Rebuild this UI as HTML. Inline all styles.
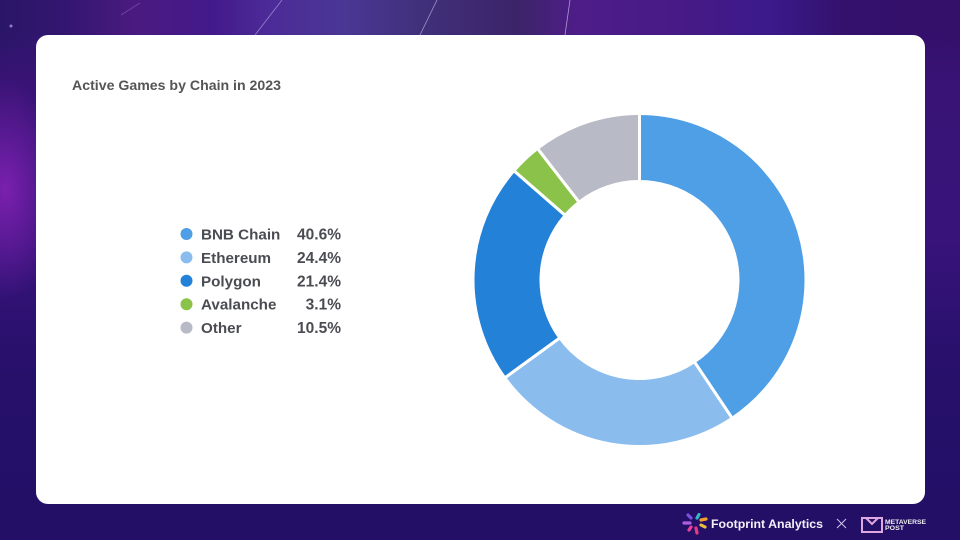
<!DOCTYPE html>
<html lang="en">
<head>
<meta charset="utf-8">
<title>Active Games by Chain in 2023</title>
<style>
html,body{margin:0;padding:0;width:960px;height:540px;overflow:hidden;background:#25106a}
#stage{position:relative;width:960px;height:540px;overflow:hidden;font-family:"Liberation Sans",sans-serif}
#bg,#chart{position:absolute;left:0;top:0}
#card{position:absolute;left:36px;top:35px;width:889px;height:469px;background:#fff;border-radius:12px}
</style>
</head>
<body>
<div id="stage">
<svg id="bg" width="960" height="540" viewBox="0 0 960 540">
  <defs>
    <linearGradient id="base" x1="0" y1="0" x2="0" y2="1">
      <stop offset="0" stop-color="#3a1474"/>
      <stop offset="0.45" stop-color="#37137a"/>
      <stop offset="0.7" stop-color="#26106a"/>
      <stop offset="1" stop-color="#230f66"/>
    </linearGradient>
    <linearGradient id="top-band" x1="0" y1="0" x2="1" y2="0">
      <stop offset="0" stop-color="#2a1668"/>
      <stop offset="0.07" stop-color="#341670"/>
      <stop offset="0.14" stop-color="#4a1a80"/>
      <stop offset="0.22" stop-color="#43198a"/>
      <stop offset="0.28" stop-color="#4c2b98"/>
      <stop offset="0.36" stop-color="#4a3794"/>
      <stop offset="0.44" stop-color="#40307a"/>
      <stop offset="0.54" stop-color="#3c2468"/>
      <stop offset="0.6" stop-color="#4e1d88"/>
      <stop offset="0.72" stop-color="#461a86"/>
      <stop offset="0.8" stop-color="#3b1a8c"/>
      <stop offset="0.88" stop-color="#33116c"/>
      <stop offset="1" stop-color="#34106a"/>
    </linearGradient>
    <linearGradient id="band-fade" x1="0" y1="0" x2="0" y2="1">
      <stop offset="0" stop-color="#fff"/>
      <stop offset="0.4" stop-color="#fff"/>
      <stop offset="1" stop-color="#000"/>
    </linearGradient>
    <mask id="band-mask" maskUnits="userSpaceOnUse" x="0" y="0" width="960" height="80">
      <rect width="960" height="80" fill="url(#band-fade)"/>
    </mask>
    <radialGradient id="glow-left" cx="0.5" cy="0.5" r="0.5">
      <stop offset="0" stop-color="#7a20ae" stop-opacity="1"/>
      <stop offset="1" stop-color="#7a20ae" stop-opacity="0"/>
    </radialGradient>
  </defs>
  <rect width="960" height="540" fill="url(#base)"/>
  <rect width="960" height="80" fill="url(#top-band)" mask="url(#band-mask)"/>
  <ellipse cx="5" cy="190" rx="60" ry="110" fill="url(#glow-left)"/>
  <line x1="255" y1="35" x2="282" y2="0" stroke="#a99bd8" stroke-width="0.8" opacity="0.8"/>
  <line x1="420" y1="35" x2="437" y2="0" stroke="#b8aee0" stroke-width="0.8" opacity="0.8"/>
  <line x1="565" y1="35" x2="570" y2="0" stroke="#c4bce6" stroke-width="0.8" opacity="0.8"/>
  <line x1="121" y1="15" x2="140" y2="3" stroke="#8a5fc0" stroke-width="1" opacity="0.6"/>
  <circle cx="11" cy="26" r="1.5" fill="#9a78c8"/>
</svg>
<div id="card"></div>
<svg id="chart" width="960" height="540" viewBox="0 0 960 540">
  <text x="72" y="90" font-size="14" font-weight="700" fill="#555" textLength="209" lengthAdjust="spacingAndGlyphs">Active Games by Chain in 2023</text>
  <g id="slices"></g>
  <g id="legend"></g>
  <g>
    <g stroke-linecap="round" stroke-width="3.2">
      <line x1="697" y1="518" x2="699" y2="514.5" stroke="#38b6c8"/>
      <line x1="701" y1="520" x2="706" y2="519" stroke="#f0a030"/>
      <line x1="701" y1="525" x2="705" y2="527" stroke="#e8c040"/>
      <line x1="696" y1="528" x2="697" y2="533" stroke="#e83a80"/>
      <line x1="691" y1="527" x2="689" y2="530" stroke="#e8409a"/>
      <line x1="690" y1="523" x2="684" y2="523" stroke="#a860e0"/>
      <line x1="691" y1="518" x2="688" y2="515" stroke="#7a50e0"/>
    </g>
    <text x="711" y="528" font-size="11.5" font-weight="700" fill="#f2f0fa" textLength="112" lengthAdjust="spacingAndGlyphs">Footprint Analytics</text>
    <path d="M837 519L846 528M846 519L837 528" stroke="#cfc8ea" stroke-width="1" fill="none"/>
    <path d="M862 518h20v14h-20zM866 518l6 6 6-6" fill="none" stroke="#e0a8e0" stroke-width="2"/>
    <text x="885" y="524" font-size="6.5" font-weight="700" fill="#eee" textLength="41" lengthAdjust="spacingAndGlyphs">METAVERSE</text>
    <text x="885" y="530" font-size="6.5" font-weight="700" fill="#eee" textLength="19" lengthAdjust="spacingAndGlyphs">POST</text>
  </g>
</svg>
</div>
<script>
const categories = ["BNB Chain", "Ethereum", "Polygon", "Avalanche", "Other"];
const shareValues = [40.6, 24.4, 21.4, 3.1, 10.5];
const printedValues = ["40.6%", "24.4%", "21.4%", "3.1%", "10.5%"];
const sliceColors = ["#4f9fe6", "#8abcee", "#2481d8", "#8bc34a", "#b8bac6"];

const NS = "http://www.w3.org/2000/svg";
const cx = 639.5, cy = 280, rOuter = 166.5, rInner = 98.5;
const total = shareValues.reduce(function (a, b) { return a + b; }, 0);

function angleOf(v) { return v / total * Math.PI * 2; }
function px(r, a) { return cx + r * Math.sin(a); }
function py(r, a) { return cy - r * Math.cos(a); }

const slices = document.getElementById("slices");
let running = 0;
shareValues.forEach(function (v, i) {
  const a0 = angleOf(running);
  const a1 = angleOf(running + v);
  running += v;
  const large = a1 - a0 > Math.PI ? 1 : 0;
  const d = "M" + px(rOuter, a0) + " " + py(rOuter, a0) +
    "A" + rOuter + " " + rOuter + " 0 " + large + " 1 " + px(rOuter, a1) + " " + py(rOuter, a1) +
    "L" + px(rInner, a1) + " " + py(rInner, a1) +
    "A" + rInner + " " + rInner + " 0 " + large + " 0 " + px(rInner, a0) + " " + py(rInner, a0) + "Z";
  const p = document.createElementNS(NS, "path");
  p.setAttribute("d", d);
  p.setAttribute("fill", sliceColors[i]);
  p.setAttribute("stroke", "#ffffff");
  p.setAttribute("stroke-width", "3");
  
  
  slices.appendChild(p);
});

const legend = document.getElementById("legend");
const legendTop = 234, legendStep = 23.4;
categories.forEach(function (name, i) {
  const y = legendTop + i * legendStep;
  const dot = document.createElementNS(NS, "circle");
  dot.setAttribute("cx", 186.5);
  dot.setAttribute("cy", y);
  dot.setAttribute("r", 6);
  dot.setAttribute("fill", sliceColors[i]);
  
  
  legend.appendChild(dot);

  const label = document.createElementNS(NS, "text");
  label.setAttribute("x", 201);
  label.setAttribute("y", y + 5.5);
  label.setAttribute("font-size", "15.2");
  label.setAttribute("font-weight", "700");
  label.setAttribute("fill", "#4a4c52");
  label.textContent = name;
  
  
  legend.appendChild(label);

  const val = document.createElementNS(NS, "text");
  val.setAttribute("x", 341);
  val.setAttribute("y", y + 5.5);
  val.setAttribute("font-size", "15.5");
  val.setAttribute("font-weight", "700");
  val.setAttribute("text-anchor", "end");
  val.setAttribute("fill", "#4a4c52");
  val.textContent = printedValues[i];
  
  
  legend.appendChild(val);
});
</script>
</body>
</html>
